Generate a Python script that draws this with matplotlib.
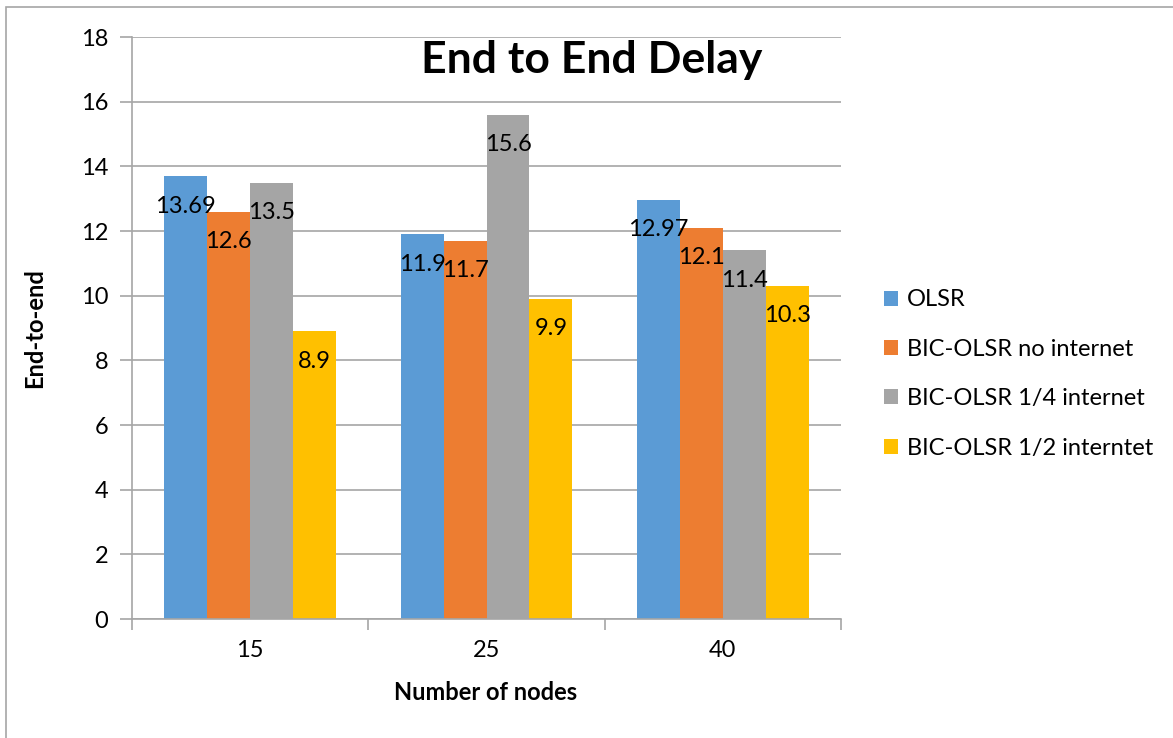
import matplotlib
matplotlib.use("Agg")
import matplotlib.pyplot as plt
import numpy as np
from matplotlib.patches import Rectangle

plt.rcParams['font.family'] = ['Lato', 'DejaVu Sans']

categories = ["15", "25", "40"]
series_names = ["OLSR", "BIC-OLSR no internet", "BIC-OLSR 1/4 internet", "BIC-OLSR 1/2 interntet"]
olsr = [13.69, 11.9, 12.97]
bic_no_internet = [12.6, 11.7, 12.1]
bic_quarter_internet = [13.5, 15.6, 11.4]
bic_half_internet = [8.9, 9.9, 10.3]
series_values = [olsr, bic_no_internet, bic_quarter_internet, bic_half_internet]
colors = ["#5B9BD5", "#ED7D31", "#A5A5A5", "#FFC000"]

FS = 17
W, H = 1173, 738
fig = plt.figure(figsize=(W / 100, H / 100), dpi=100)

# outer chart frame
fig.patches.append(Rectangle((6 / W, -0.1), 1.2, 1 - 7 / H + 0.1, transform=fig.transFigure,
                             fill=False, edgecolor="#A6A6A6", linewidth=1.2))

ax = fig.add_axes([132 / W, 1 - 619 / H, (841 - 132) / W, (619 - 37) / H])

n_series = len(series_values)
gap = 1.5
bw = 1.0 / (n_series + gap)
x = np.arange(len(categories))

for i, (name, vals, c) in enumerate(zip(series_names, series_values, colors)):
    pos = x - (n_series * bw) / 2 + bw * (i + 0.5)
    bars = ax.bar(pos, vals, width=bw, color=c, label=name, zorder=2)
    for b, v in zip(bars, vals):
        ax.annotate(f"{v:g}", (b.get_x() + b.get_width() / 2, v),
                    xytext=(0, -30), textcoords="offset pixels",
                    ha="center", va="center", fontsize=FS, color="#000000", zorder=3)

ax.set_xlim(-0.5, len(categories) - 0.5)
ax.set_ylim(0, 18)
ax.set_yticks(np.arange(0, 19, 2))
ax.set_xticks(x)
ax.set_xticklabels(categories)
ax.set_xticks(np.arange(-0.5, len(categories)), minor=True)

ax.grid(axis="y", color="#A6A6A6", linewidth=1.2, zorder=0)
ax.set_axisbelow(True)
for s in ["top", "right"]:
    ax.spines[s].set_visible(False)
ax.spines["left"].set_color("#A6A6A6")
ax.spines["bottom"].set_color("#A6A6A6")
ax.spines["left"].set_linewidth(1.2)
ax.spines["bottom"].set_linewidth(1.2)

ax.tick_params(axis="y", which="major", length=9, color="#A6A6A6", width=1.2,
               labelsize=FS, pad=8)
ax.tick_params(axis="x", which="major", length=0, labelsize=FS, pad=15)
ax.tick_params(axis="x", which="minor", length=8, color="#A6A6A6", width=1.2)

ax.set_ylabel("End-to-end", fontsize=FS, fontweight="bold")
ax.yaxis.set_label_coords(-0.138, 0.5)
ax.set_xlabel("Number of nodes", fontsize=FS, fontweight="bold")
ax.xaxis.set_label_coords(0.498, -0.127)
ax.xaxis.label.set_va("center")
ax.yaxis.label.set_va("center")

fig.text(592 / W, 1 - 60 / H, "End to End Delay", fontsize=32, fontweight="bold",
         ha="center", va="center")

handles, labels = ax.get_legend_handles_labels()
fig.legend(handles, labels, loc="center left", bbox_to_anchor=(863 / W, 1 - 374 / H),
           frameon=False, fontsize=FS, handlelength=0.6, handleheight=0.6,
           handletextpad=0.35, labelspacing=1.2)

fig.savefig("out.png", dpi=100)
